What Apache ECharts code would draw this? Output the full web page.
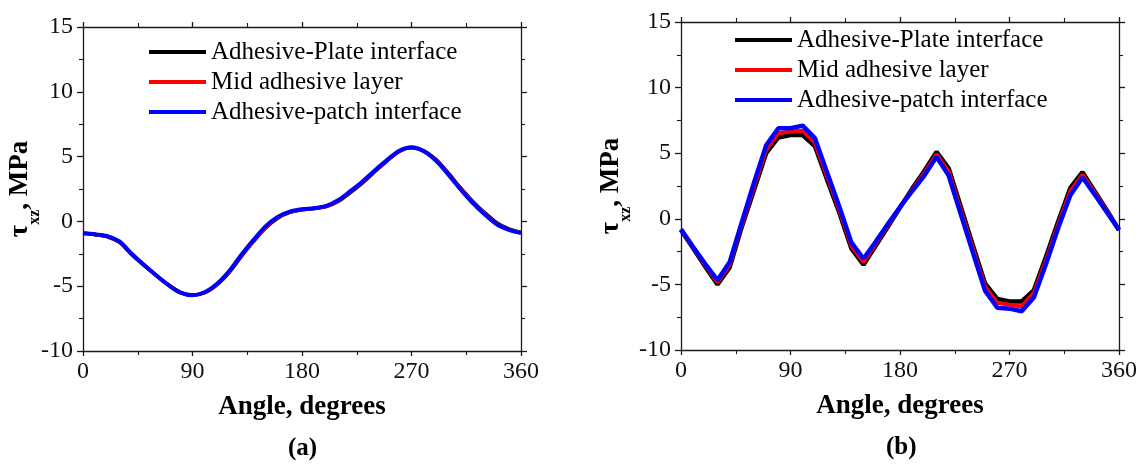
<!DOCTYPE html>
<html>
<head>
<meta charset="utf-8">
<script src="https://cdn.jsdelivr.net/npm/echarts@6/dist/echarts.min.js"></script>
<style>
html,body{margin:0;padding:0;background:#fff;}
#c{width:1143px;height:465px;}
</style>
</head>
<body>
<div id="c"></div>
<script>
// ---- data ----
const angles = [0,10,20,30,40,50,60,70,80,90,100,110,120,130,140,150,160,170,180,190,200,210,220,230,240,250,260,270,280,290,300,310,320,330,340,350,360];
const seriesNames = ['Adhesive-Plate interface', 'Mid adhesive layer', 'Adhesive-patch interface'];
const xTicks = [0, 90, 180, 270, 360];
const yTicks = [-10, -5, 0, 5, 10, 15];
const panelLabels = ['(a)', '(b)'];

// panel (a)
const aPlate = [-0.90,-1.02,-1.18,-1.62,-2.55,-3.38,-4.15,-4.88,-5.47,-5.68,-5.50,-4.90,-3.95,-2.72,-1.56,-0.50,0.25,0.70,0.90,1.00,1.15,1.55,2.25,3.00,3.85,4.68,5.40,5.68,5.45,4.78,3.75,2.62,1.58,0.68,-0.10,-0.58,-0.86];
const aMid   = [-0.91,-1.01,-1.16,-1.58,-2.52,-3.36,-4.15,-4.89,-5.48,-5.69,-5.49,-4.87,-3.90,-2.66,-1.50,-0.44,0.30,0.72,0.91,1.01,1.17,1.60,2.30,3.05,3.90,4.71,5.42,5.70,5.44,4.74,3.70,2.56,1.52,0.62,-0.16,-0.62,-0.88];
const aPatch = [-0.92,-1.00,-1.13,-1.55,-2.50,-3.35,-4.15,-4.90,-5.50,-5.70,-5.47,-4.83,-3.85,-2.60,-1.44,-0.38,0.35,0.75,0.93,1.02,1.20,1.65,2.35,3.10,3.95,4.75,5.45,5.72,5.42,4.70,3.65,2.50,1.45,0.55,-0.22,-0.65,-0.90];

// panel (b)
const bPlate = [-0.85,-2.25,-3.65,-5.00,-3.70,-0.60,2.20,5.00,6.20,6.38,6.38,5.55,3.00,0.50,-2.25,-3.50,-2.05,-0.60,0.85,2.30,3.65,5.10,3.85,0.90,-2.05,-4.95,-6.10,-6.30,-6.30,-5.45,-2.90,-0.20,2.35,3.55,2.10,0.65,-0.85];
const bMid   = [-0.83,-2.20,-3.55,-4.85,-3.50,-0.45,2.45,5.25,6.52,6.65,6.72,5.80,3.25,0.70,-2.05,-3.30,-1.90,-0.50,0.88,2.20,3.48,4.92,3.60,0.65,-2.30,-5.20,-6.40,-6.55,-6.68,-5.65,-3.15,-0.45,2.10,3.37,2.00,0.58,-0.85];
const bPatch = [-0.80,-2.15,-3.45,-4.68,-3.30,-0.25,2.75,5.60,6.90,6.90,7.10,6.15,3.55,0.95,-1.80,-3.05,-1.75,-0.40,0.90,2.10,3.30,4.72,3.30,0.35,-2.60,-5.50,-6.78,-6.85,-7.05,-6.00,-3.45,-0.70,1.80,3.15,1.85,0.50,-0.85];

// ---- chart ----
const FONT = 'Liberation Serif';
const colors = ['#000000', '#ff0000', '#0000ff'];
const chart = echarts.init(document.getElementById('c'), null, {renderer: 'canvas'});

function pairs(ys) { return angles.map((a, i) => [a, ys[i]]); }

const axisLineStyle = {color: '#1a1a1a', width: 1.3};
function xAxisDef(gridIndex, bottom) {
  return {
    type: 'value', gridIndex: gridIndex, position: bottom ? 'bottom' : 'top',
    min: xTicks[0], max: xTicks[xTicks.length - 1], interval: 90,
    axisLine: {show: true, onZero: false, lineStyle: axisLineStyle},
    axisTick: {show: true, inside: false, length: 5, lineStyle: axisLineStyle},
    minorTick: {show: true, splitNumber: 2, length: 4, lineStyle: {color: '#1a1a1a', width: 1.1}},
    splitLine: {show: false},
    axisLabel: {show: bottom, margin: 9, fontFamily: FONT, fontSize: 24, color: '#111'},
    name: bottom ? 'Angle, degrees' : '',
    nameLocation: 'middle', nameGap: 43, nameMoveOverlap: false,
    nameTextStyle: {fontFamily: FONT, fontSize: 27, fontWeight: 'bold', color: '#000'}
  };
}
function yAxisDef(gridIndex, left, gap) {
  return {
    type: 'value', gridIndex: gridIndex, position: left ? 'left' : 'right',
    min: yTicks[0], max: yTicks[yTicks.length - 1], interval: 5,
    axisLine: {show: true, onZero: false, lineStyle: axisLineStyle},
    axisTick: {show: true, inside: false, length: 6, lineStyle: axisLineStyle},
    minorTick: {show: true, splitNumber: 2, length: 4, lineStyle: {color: '#1a1a1a', width: 1.1}},
    splitLine: {show: false},
    axisLabel: {show: left, margin: 10, fontFamily: FONT, fontSize: 24, color: '#111'},
    name: left ? '{t|τ}{s|xz}{t|, MPa}' : '',
    nameLocation: 'middle', nameRotate: 90, nameGap: gap, nameMoveOverlap: false,
    nameTextStyle: {
      fontFamily: FONT, fontSize: 27, fontWeight: 'bold', color: '#000',
      rich: {
        t: {fontFamily: FONT, fontSize: 27, fontWeight: 'bold', color: '#000', lineHeight: 36, verticalAlign: 'top'},
        s: {fontFamily: FONT, fontSize: 16, fontWeight: 'bold', color: '#000', verticalAlign: 'bottom'}
      }
    }
  };
}

function lineSeries(name, data, xi, yi, color, width, smooth, z) {
  return {
    type: 'line', name: name, data: pairs(data), xAxisIndex: xi, yAxisIndex: yi,
    showSymbol: false, symbol: 'none', smooth: smooth, z: z,
    lineStyle: {color: color, width: width}, itemStyle: {color: color},
    animation: false
  };
}

const legendCommon = {
  orient: 'vertical', icon: 'rect', itemWidth: 57, itemHeight: 4,
  itemGap: 4, selectedMode: false, padding: 0,
  textStyle: {fontFamily: FONT, fontSize: 25, color: '#000', lineHeight: 26, padding: [0, 0, 0, 0]},
  data: seriesNames
};

chart.setOption({
  backgroundColor: '#fff',
  animation: false,
  grid: [
    {left: 83, top: 27, width: 438, height: 324, containLabel: false, outerBoundsMode: 'none'},
    {left: 681, top: 22, width: 438, height: 328, containLabel: false, outerBoundsMode: 'none'}
  ],
  xAxis: [xAxisDef(0, true), xAxisDef(0, false), xAxisDef(1, true), xAxisDef(1, false)],
  yAxis: [yAxisDef(0, true, 40), yAxisDef(0, false, 0), yAxisDef(1, true, 47), yAxisDef(1, false, 0)],
  legend: [
    Object.assign({}, legendCommon, {left: 149, top: 39}),
    Object.assign({}, legendCommon, {left: 735, top: 27})
  ],
  series: [
    lineSeries(seriesNames[0], aPlate, 0, 0, colors[0], 3.6, 0.3, 2),
    lineSeries(seriesNames[1], aMid, 0, 0, colors[1], 3.6, 0.3, 3),
    lineSeries(seriesNames[2], aPatch, 0, 0, colors[2], 4, 0.3, 4),
    lineSeries(seriesNames[0], bPlate, 2, 2, colors[0], 4.5, false, 2),
    lineSeries(seriesNames[1], bMid, 2, 2, colors[1], 4, false, 3),
    lineSeries(seriesNames[2], bPatch, 2, 2, colors[2], 4.5, false, 4)
  ],
  graphic: [
    {type: 'text', left: 288, top: 436, style: {text: panelLabels[0], font: 'bold 25px "Liberation Serif"', fill: '#000'}},
    {type: 'text', left: 886, top: 435, style: {text: panelLabels[1], font: 'bold 25px "Liberation Serif"', fill: '#000'}}
  ]
});
</script>
</body>
</html>
